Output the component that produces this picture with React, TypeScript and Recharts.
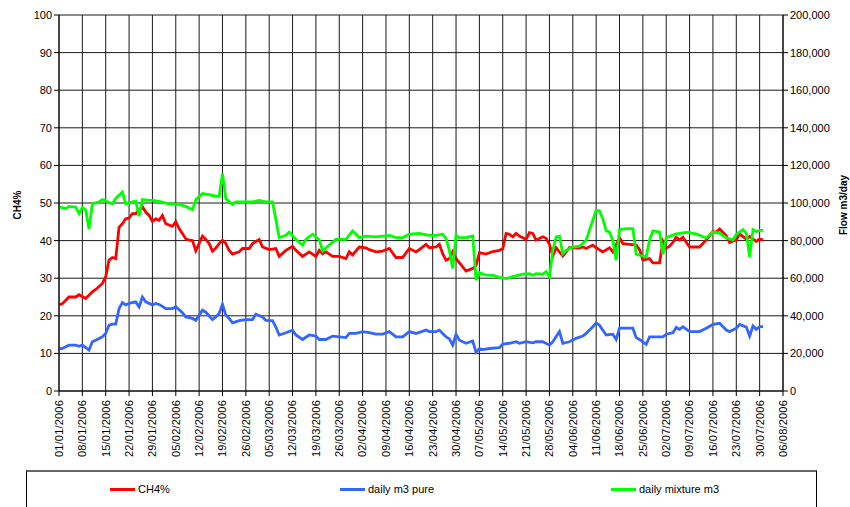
import React from "react";
import { CartesianGrid, Line, LineChart, XAxis, YAxis } from "recharts";

// days counted from 01/01/2006
const ch4Days = [
  0, 1, 3, 5, 6, 8, 10, 11, 13, 14, 15, 16, 17, 18, 19, 20, 21, 22, 23, 25, 26, 27, 28, 29, 30, 31, 32, 34, 35, 36,
  38, 39, 40, 41, 42, 43, 44, 45, 46, 47, 48, 49, 50, 51, 52, 54, 55, 57, 58, 60, 61, 63, 65, 66, 68, 70, 71, 73, 75,
  77, 78, 79, 80, 82, 84, 86, 87, 88, 90, 92, 93, 95, 97, 99, 101, 103, 105, 107, 108, 110, 111, 113, 114, 115, 116,
  117, 118, 119, 121, 122, 124, 125, 126, 128, 130, 132, 133, 134, 135, 136, 137, 138, 140, 141, 142, 143, 145, 146,
  147, 148, 149, 151, 153, 154, 156, 157, 158, 160, 161, 163, 165, 166, 168, 169, 171, 173, 174, 175, 177, 178, 180,
  181, 182, 183, 184, 185, 186, 187, 189, 192, 194, 196, 197, 198, 200, 201, 203, 204, 206, 207, 208, 209, 210, 211
];
const ch4Pct = [
  23.0, 23.2, 25.0, 25.0, 25.6, 24.6, 26.4, 27.0, 28.6, 30.4, 34.8, 35.5, 35.2, 43.5, 44.5, 45.8, 46.0, 47.2, 47.2, 49.0,
  47.6, 46.7, 45.1, 45.8, 45.4, 46.7, 44.5, 43.8, 45.0, 43.2, 40.5, 40.1, 40.0, 37.3, 39.2, 41.2, 40.3, 39.2, 37.2, 38.0,
  39.2, 40.1, 39.2, 37.4, 36.4, 37.0, 37.9, 37.9, 39.2, 40.3, 38.3, 37.6, 37.9, 35.8, 37.4, 38.5, 37.4, 35.8, 37.0, 35.8,
  37.4, 36.5, 37.0, 35.8, 35.8, 35.2, 37.0, 36.2, 38.3, 38.1, 37.6, 37.0, 37.2, 37.9, 35.5, 35.5, 37.9, 37.0, 37.6, 39.0,
  38.1, 38.3, 39.0, 36.5, 34.8, 35.2, 37.0, 35.2, 33.0, 31.9, 32.6, 33.4, 36.8, 36.4, 37.1, 37.4, 37.8, 41.9, 41.7, 41.0,
  41.9, 41.2, 40.3, 42.1, 41.9, 40.1, 41.0, 40.6, 39.0, 35.9, 38.1, 35.9, 38.1, 38.1, 38.0, 38.3, 37.9, 38.8, 38.1, 37.0,
  38.1, 37.0, 40.8, 39.2, 39.0, 38.8, 37.6, 34.8, 35.2, 34.1, 34.1, 39.8, 38.0, 38.5, 39.5, 40.9, 40.2, 40.9, 38.3, 38.3,
  40.2, 42.4, 42.2, 43.1, 41.3, 39.5, 40.2, 41.8, 40.4, 41.1, 40.4, 39.8, 40.4, 40.2
];

const pureDays = [
  0, 1, 3, 5, 6, 7, 9, 10, 11, 13, 14, 15, 16, 17, 18, 19, 20, 21, 23, 24, 25, 26, 27, 28, 29, 30, 31, 32, 34, 35, 37,
  38, 40, 41, 43, 44, 46, 47, 48, 49, 50, 51, 52, 54, 56, 58, 59, 61, 62, 64, 65, 66, 68, 70, 71, 73, 75, 77, 78, 80,
  82, 84, 86, 87, 89, 91, 93, 95, 97, 99, 101, 103, 105, 107, 110, 111, 113, 114, 116, 117, 118, 119, 120, 122, 124,
  125, 126, 127, 129, 132, 133, 135, 137, 138, 140, 142, 143, 145, 147, 148, 150, 151, 153, 155, 157, 158, 160, 161,
  162, 164, 166, 167, 168, 170, 172, 173, 174, 176, 177, 179, 181, 182, 184, 185, 186, 187, 189, 192, 194, 196, 198,
  200, 201, 203, 204, 206, 207, 208, 209, 210, 211
];
const pureFlow = [
  22400, 22600, 24400, 24400, 23800, 24400, 21800, 26200, 27000, 28800, 30600, 35000, 35600, 35600, 43800, 47000, 45800,
  46600, 47400, 44800, 50000, 47400, 46600, 45800, 46600, 46000, 45000, 43800, 43800, 44800, 41600, 39400, 38600, 37600,
  43000, 42000, 38000, 39400, 41200, 46200, 40400, 38600, 36200, 37400, 38000, 38000, 40800, 39400, 37600, 37400, 34000,
  29800, 31000, 32400, 29800, 27400, 29800, 29200, 27400, 27400, 29200, 28800, 28400, 30600, 30600, 31600, 31000, 30200,
  30200, 31600, 28800, 28800, 31600, 30600, 32400, 31600, 31600, 32400, 28800, 27800, 24400, 30200, 27000, 25400, 26600,
  20600, 22600, 22000, 22600, 23000, 25000, 25400, 26200, 25400, 26200, 25600, 26200, 26200, 24400, 26200, 31600, 25400,
  26200, 28000, 29200, 30600, 34200, 36200, 35000, 29800, 30200, 27400, 33400, 33400, 33400, 28400, 27400, 24800, 28800,
  28800, 28800, 30200, 31000, 33800, 32800, 34200, 31600, 31600, 33400, 35400, 36000, 32400, 31600, 33400, 35400, 34000,
  29200, 34600, 32800, 34200, 34200
];

const mixDays = [
  0, 1, 2, 3, 5, 6, 7, 8, 9, 10, 12, 13, 14, 16, 17, 19, 20, 22, 23, 24, 25, 27, 28, 30, 33, 36, 38, 40, 41, 43, 45,
  47, 48, 49, 50, 52, 53, 56, 58, 60, 62, 64, 66, 68, 69, 71, 73, 74, 76, 78, 79, 81, 83, 86, 88, 90, 92, 95, 97, 99,
  101, 103, 105, 108, 111, 113, 115, 116, 117, 118, 119, 120, 122, 124, 125, 126, 128, 130, 132, 134, 136, 139, 141,
  142, 143, 145, 146, 147, 148, 149, 150, 151, 152, 154, 156, 158, 160, 161, 162, 163, 164, 165, 166, 167, 168, 170,
  172, 173, 174, 176, 177, 178, 180, 181, 182, 185, 188, 191, 194, 196, 198, 200, 202, 203, 205, 206, 207, 208, 209,
  210, 211
];
const mixFlow = [
  97800, 97600, 97000, 98200, 97800, 94400, 97600, 96400, 86000, 99600, 100600, 101800, 101000, 99600, 102400, 105800,
  99600, 100600, 101000, 93000, 101800, 101400, 101400, 100800, 99600, 99200, 98200, 96400, 101800, 105000, 104400,
  103600, 103600, 115600, 102400, 99200, 100600, 100600, 100600, 101400, 100600, 100600, 81600, 82800, 84600, 80600,
  77600, 80600, 83400, 80600, 74600, 77600, 80600, 80600, 85200, 81600, 82400, 82000, 82400, 82800, 81600, 81600, 83400,
  83800, 82800, 82800, 83400, 81200, 74800, 65200, 82800, 81600, 81600, 82400, 59000, 63000, 61600, 61600, 60400, 59800,
  60800, 62200, 62400, 61600, 62400, 62200, 63400, 60800, 74800, 82000, 82400, 73000, 74800, 76600, 77000, 80200, 90800,
  96200, 95800, 91600, 85200, 84600, 80000, 69600, 85800, 86400, 86400, 72800, 72200, 71400, 80200, 85200, 84600, 72800,
  81600, 83600, 84400, 83600, 81400, 84400, 84000, 81400, 80400, 83200, 85800, 84000, 71200, 85800, 84800, 85400, 85400
];

const weekTicks = Array.from({ length: 32 }, (_, i) => i * 7);
const pctTicks = [0, 10, 20, 30, 40, 50, 60, 70, 80, 90, 100];
const flowTicks = [0, 20000, 40000, 60000, 80000, 100000, 120000, 140000, 160000, 180000, 200000];

const ch4Data = ch4Days.map((day, i) => ({ day, value: ch4Pct[i] }));
const pureData = pureDays.map((day, i) => ({ day, value: pureFlow[i] }));
const mixData = mixDays.map((day, i) => ({ day, value: mixFlow[i] }));

const FONT = "'Liberation Sans', Arial, sans-serif";

function formatDay(day: number) {
  const d = new Date(Date.UTC(2006, 0, 1 + day));
  const pad = (n: number) => String(n).padStart(2, "0");
  return `${pad(d.getUTCDate())}/${pad(d.getUTCMonth() + 1)}/${d.getUTCFullYear()}`;
}

function DateTick({ x, y, payload }: any) {
  return (
    <g transform={`translate(${x},${y})`}>
      <text
        transform="rotate(-90)"
        x={-2}
        dy="0.35em"
        textAnchor="end"
        fontSize={11}
        letterSpacing={0.2}
        fill="#000"
        fontFamily={FONT}
      >
        {formatDay(payload.value)}
      </text>
    </g>
  );
}

function AxisTitle({ cx, cy, text }: { cx: number; cy: number; text: string }) {
  return (
    <text
      x={cx}
      y={cy}
      transform={`rotate(-90, ${cx}, ${cy})`}
      textAnchor="middle"
      dominantBaseline="central"
      fontWeight="bold"
      fontSize={10}
      fill="#000"
      fontFamily={FONT}
    >
      {text}
    </text>
  );
}

const legendItems = [
  { label: "CH4%", color: "#ff0000", left: 110 },
  { label: "daily m3 pure", color: "#3366ff", left: 340 },
  { label: "daily mixture m3", color: "#00ff00", left: 611 }
];

export default function App() {
  const tickStyle = { fontSize: 11, fill: "#000", fontFamily: FONT };
  return (
    <div
      style={{
        position: "absolute",
        left: 0,
        top: 0,
        width: 850,
        height: 507,
        overflow: "hidden",
        background: "#fff",
        fontFamily: FONT
      }}
    >
      <LineChart width={850} height={507} margin={{ top: 15, right: 0, bottom: 0, left: 0 }}>
        <CartesianGrid yAxisId="pct" stroke="#1a1a1a" strokeWidth={1} />
        <XAxis
          dataKey="day"
          type="number"
          domain={[0, 217]}
          ticks={weekTicks}
          interval={0}
          height={116}
          tick={<DateTick />}
          tickSize={5}
          stroke="#000"
          allowDuplicatedCategory={false}
        />
        <YAxis
          yAxisId="pct"
          domain={[0, 100]}
          ticks={pctTicks}
          interval={0}
          width={59}
          tickSize={5}
          stroke="#000"
          tick={tickStyle}
          label={<AxisTitle cx={17} cy={205} text="CH4%" />}
        />
        <YAxis
          yAxisId="flow"
          orientation="right"
          domain={[0, 200000]}
          ticks={flowTicks}
          interval={0}
          width={67}
          tickSize={5}
          stroke="#000"
          tick={{ ...tickStyle, textAnchor: "start" }}
          tickFormatter={(v) => Number(v).toLocaleString("en-US")}
          label={<AxisTitle cx={843} cy={205} text="Flow m3/day" />}
        />
        <Line
          yAxisId="pct"
          data={ch4Data}
          dataKey="value"
          type="linear"
          stroke="#ff0000"
          strokeWidth={2.8}
          dot={false}
          isAnimationActive={false}
        />
        <Line
          yAxisId="flow"
          data={pureData}
          dataKey="value"
          type="linear"
          stroke="#3366ff"
          strokeWidth={2.8}
          dot={false}
          isAnimationActive={false}
        />
        <Line
          yAxisId="flow"
          data={mixData}
          dataKey="value"
          type="linear"
          stroke="#00ff00"
          strokeWidth={2.8}
          dot={false}
          isAnimationActive={false}
        />
      </LineChart>

      <div
        style={{
          position: "absolute",
          left: 26,
          top: 470,
          width: 791,
          height: 60,
          border: "1px solid #000",
          borderTopWidth: 2,
          borderTopColor: "#666",
          boxSizing: "border-box"
        }}
      />
      {legendItems.map((item) => (
        <div
          key={item.label}
          style={{
            position: "absolute",
            left: item.left,
            top: 482,
            height: 14,
            display: "flex",
            alignItems: "center",
            fontSize: 11,
            color: "#000"
          }}
        >
          <span style={{ display: "inline-block", width: 25, height: 3, background: item.color, marginRight: 3 }} />
          <span>{item.label}</span>
        </div>
      ))}
    </div>
  );
}
